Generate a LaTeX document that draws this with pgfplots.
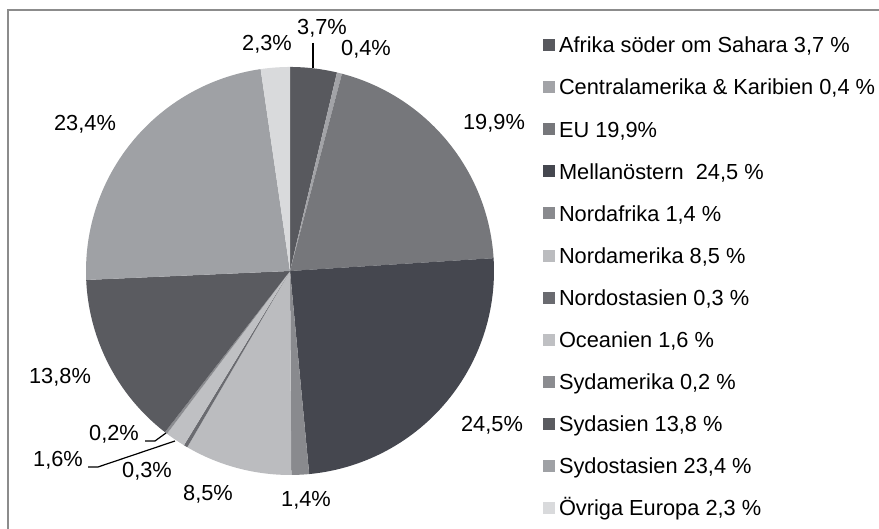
\documentclass[border=0pt]{standalone}
\usepackage{fontspec}
\setmainfont{Liberation Sans}
\usepackage{pgfplots}
\pgfplotsset{compat=1.18}
\definecolor{c1}{HTML}{58595E}
\definecolor{c2}{HTML}{A2A3A7}
\definecolor{c3}{HTML}{76777B}
\definecolor{c4}{HTML}{45474F}
\definecolor{c5}{HTML}{898A8E}
\definecolor{c6}{HTML}{BBBCBF}
\definecolor{c7}{HTML}{6A6B70}
\definecolor{c8}{HTML}{BFC0C3}
\definecolor{c9}{HTML}{8B8C90}
\definecolor{c10}{HTML}{5A5B60}
\definecolor{c11}{HTML}{9FA1A5}
\definecolor{c12}{HTML}{D9DADC}
\newcommand\lbl{\fontsize{6.2}{7}\selectfont}
\newcommand\curang{90}
\newcommand\slice[3]{%
  \pgfmathsetmacro\endang{\curang-3.6*#1}%
  \edef\temp{\noexpand\addplot[fill=#2,draw=none,domain=\endang:\curang,samples=60] ({290+204*cos(x)},{258+204*sin(x)}) -- (axis cs:290,258) -- cycle;}%
  \temp
  \addlegendentry{#3}%
  \xdef\curang{\endang}%
}
\begin{document}
\begin{tikzpicture}
\useasboundingbox (0,0) rectangle (8.79cm,5.29cm);
\begin{axis}[at={(0,0)}, anchor=south west, scale only axis,
  width=8.79cm, height=5.29cm, xmin=0, xmax=879, ymin=0, ymax=529,
  hide axis, clip=false, legend cell align=left,
  legend style={at={(axis cs:543,492.3)}, anchor=north west, draw=none, fill=none,
    inner sep=0pt, outer sep=0pt, row sep=0.253cm, column sep=0.04cm, font=\lbl,
    nodes={inner sep=0pt, text height=0.162cm, text depth=0.006cm}},
  legend image code/.code={\fill[#1] (0cm,-0.06cm) rectangle (0.12cm,0.06cm);}]
\slice{3.7}{c1}{Afrika söder om Sahara 3,7 \%}
\slice{0.4}{c2}{Centralamerika \& Karibien 0,4 \%}
\slice{19.9}{c3}{EU 19,9\%}
\slice{24.5}{c4}{Mellanöstern\ \ 24,5 \%}
\slice{1.4}{c5}{Nordafrika 1,4 \%}
\slice{8.5}{c6}{Nordamerika 8,5 \%}
\slice{0.3}{c7}{Nordostasien 0,3 \%}
\slice{1.6}{c8}{Oceanien 1,6 \%}
\slice{0.2}{c9}{Sydamerika 0,2 \%}
\slice{13.8}{c10}{Sydasien 13,8 \%}
\slice{23.4}{c11}{Sydostasien 23,4 \%}
\slice{2.3}{c12}{Övriga Europa 2,3 \%}
\draw[color=black!45, line width=0.018cm] (axis cs:879,519) -- (axis cs:8,519) -- (axis cs:8,0);
\draw[line width=0.012cm] (axis cs:313,486) -- (axis cs:313,461);
\draw[line width=0.012cm] (axis cs:145,88) -- (axis cs:155,88) -- (axis cs:166,96);
\draw[line width=0.012cm] (axis cs:88,62) -- (axis cs:98,62) -- (axis cs:175,88);
\node[font=\lbl] at (axis cs:322,501) {3,7\%};
\node[font=\lbl] at (axis cs:366,479.5) {0,4\%};
\node[font=\lbl] at (axis cs:267,484.5) {2,3\%};
\node[font=\lbl] at (axis cs:494,405.5) {19,9\%};
\node[font=\lbl] at (axis cs:492,104) {24,5\%};
\node[font=\lbl] at (axis cs:306,29) {1,4\%};
\node[font=\lbl] at (axis cs:208,34.5) {8,5\%};
\node[font=\lbl] at (axis cs:147,57.5) {0,3\%};
\node[font=\lbl] at (axis cs:58,69) {1,6\%};
\node[font=\lbl] at (axis cs:114,94.5) {0,2\%};
\node[font=\lbl] at (axis cs:60,152) {13,8\%};
\node[font=\lbl] at (axis cs:85,404.5) {23,4\%};
\end{axis}
\end{tikzpicture}
\end{document}
